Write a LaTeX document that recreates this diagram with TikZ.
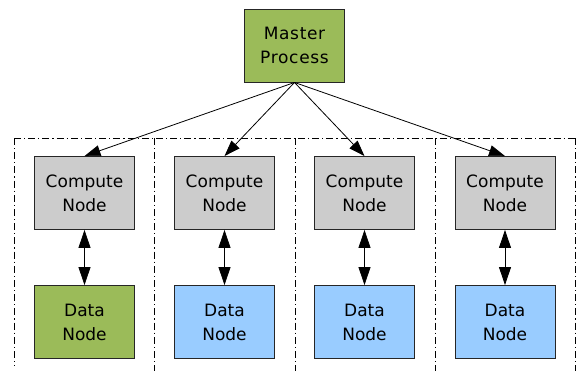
\documentclass[tikz,border=0pt]{standalone}
\usepackage{fontspec}
\setmainfont{DejaVu Sans}
\usetikzlibrary{arrows.meta}
\definecolor{mgreen}{HTML}{9BBB59}
\definecolor{mgray}{HTML}{CCCCCC}
\definecolor{mblue}{HTML}{99CCFF}
\begin{document}
\begin{tikzpicture}[x=1pt,y=-1pt,
  box/.style={draw=black!85,line width=0.9pt,minimum width=100pt,minimum height=73pt,inner sep=0pt,
    align=center,font=\fontsize{17}{24}\selectfont},
  cbox/.style={box,fill=mgray},
  gbox/.style={box,fill=mgreen},
  bbox/.style={box,fill=mblue},
  arr/.style={line width=0.8pt,-{Triangle[length=16pt,width=11pt]}},
  darr/.style={line width=0.8pt,{Triangle[length=18pt,width=12pt]}-{Triangle[length=18pt,width=12pt]}},
  sep/.style={line width=0.9pt,dash pattern=on 7pt off 3pt on 1.2pt off 3pt}]
\useasboundingbox (0,0) rectangle (576,373);
% partition lines
\coordinate (t0) at (14,138);
\coordinate (t4) at (576,138);
\draw[sep] (t0) -- (t4);
\foreach \x/\b in {14/366,154/371,295/371,435/371,575/371}{
  \draw[sep] (\x,138) -- (\x,\b);
}
\node[gbox,font=\fontsize{17}{24}\selectfont\addfontfeature{LetterSpace=4}] (m) at (294.5,45.5) {Master\\Process};
\node[cbox] (c1) at (84.5,193) {Compute\\Node};
\node[cbox] (c2) at (224.5,193) {Compute\\Node};
\node[cbox] (c3) at (364.5,193) {Compute\\Node};
\node[cbox] (c4) at (505,193) {Compute\\Node};
\node[gbox] (d1) at (84.5,322) {Data\\Node};
\node[bbox] (d2) at (224.5,322) {Data\\Node};
\node[bbox] (d3) at (364.5,322) {Data\\Node};
\node[bbox] (d4) at (505,322) {Data\\Node};
\foreach \i in {1,2,3,4}{
  \draw[arr] (m.south) -- (c\i.north);
  \draw[darr] (c\i.south) -- (d\i.north);
}
\end{tikzpicture}
\end{document}
